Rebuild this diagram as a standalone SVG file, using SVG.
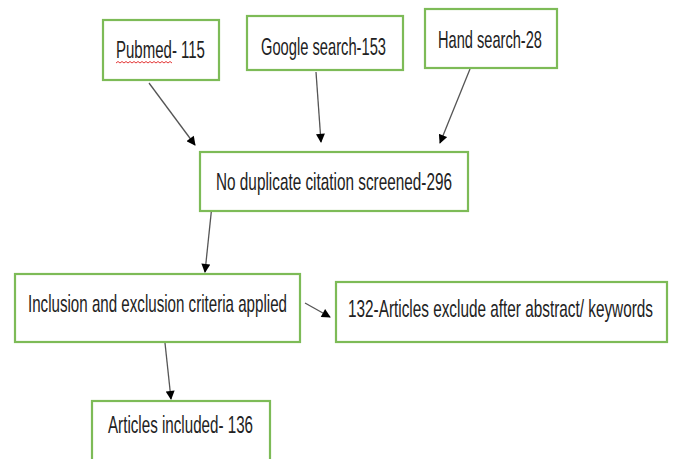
<svg xmlns="http://www.w3.org/2000/svg" width="673" height="459" viewBox="0 0 673 459">
<style>
.box{fill:#fff;stroke:#7DBB57;stroke-width:2.2}
.t{font-family:"Liberation Sans",Arial,sans-serif;font-size:24px;fill:#222}
.c{stroke:#555;stroke-width:1.3;fill:none;marker-end:url(#ah)}
</style>
<defs>
<marker id="ah" viewBox="0 0 10 10" refX="9" refY="5" markerWidth="10" markerHeight="9" markerUnits="userSpaceOnUse" orient="auto">
<path d="M0,0 L10,5 L0,10 z" fill="#000"/>
</marker>
</defs>
<rect width="673" height="459" fill="#fff"/>
<g id="connectors">
<line class="c" x1="149" y1="83" x2="195" y2="145"/>
<line class="c" x1="316" y1="72" x2="321" y2="142"/>
<line class="c" x1="470" y1="69" x2="440" y2="143"/>
<line class="c" x1="212" y1="205" x2="205" y2="272"/>
<line class="c" x1="305" y1="303" x2="330" y2="317"/>
<line class="c" x1="165" y1="343" x2="171" y2="399"/>
</g>
<g id="pubmed">
<rect class="box" x="103" y="20" width="116" height="60"/>
<text class="t" transform="translate(116,58) scale(0.62,1)" textLength="143.5" lengthAdjust="spacingAndGlyphs">Pubmed- 115</text>
<path d="M116,63 l2,-1.5 l2,1.5 l2,-1.5 l2,1.5 l2,-1.5 l2,1.5 l2,-1.5 l2,1.5 l2,-1.5 l2,1.5 l2,-1.5 l2,1.5 l2,-1.5 l2,1.5 l2,-1.5 l2,1.5 l2,-1.5 l2,1.5 l2,-1.5 l2,1.5 l2,-1.5 l2,1.5 l2,-1.5 l2,1.5 l2,-1.5 l2,1.5 l2,-1.5 l2,1.5" fill="none" stroke="#e02020" stroke-width="0.9"/>
</g>
<g id="google">
<rect class="box" x="247" y="16" width="156" height="54"/>
<text class="t" transform="translate(261,55) scale(0.62,1)" textLength="201.6" lengthAdjust="spacingAndGlyphs">Google search-153</text>
</g>
<g id="hand">
<rect class="box" x="425" y="9" width="132" height="59"/>
<text class="t" transform="translate(438,48) scale(0.62,1)" textLength="167.7" lengthAdjust="spacingAndGlyphs">Hand search-28</text>
</g>
<g id="noduplicate">
<rect class="box" x="200" y="152" width="268" height="59"/>
<text class="t" transform="translate(216,190) scale(0.62,1)" textLength="380.6" lengthAdjust="spacingAndGlyphs">No duplicate citation screened-296</text>
</g>
<g id="inclusion">
<rect class="box" x="15" y="274" width="285" height="68"/>
<text class="t" transform="translate(28,312) scale(0.62,1)" textLength="417.7" lengthAdjust="spacingAndGlyphs">Inclusion and exclusion criteria applied</text>
</g>
<g id="excluded">
<rect class="box" x="336" y="282" width="331" height="60"/>
<text class="t" transform="translate(348,317) scale(0.62,1)" textLength="491.9" lengthAdjust="spacingAndGlyphs">132-Articles exclude after abstract/ keywords</text>
</g>
<g id="included">
<rect class="box" x="92" y="401" width="178" height="70"/>
<text class="t" transform="translate(108,433) scale(0.62,1)" textLength="233.9" lengthAdjust="spacingAndGlyphs">Articles included- 136</text>
</g>
</svg>
